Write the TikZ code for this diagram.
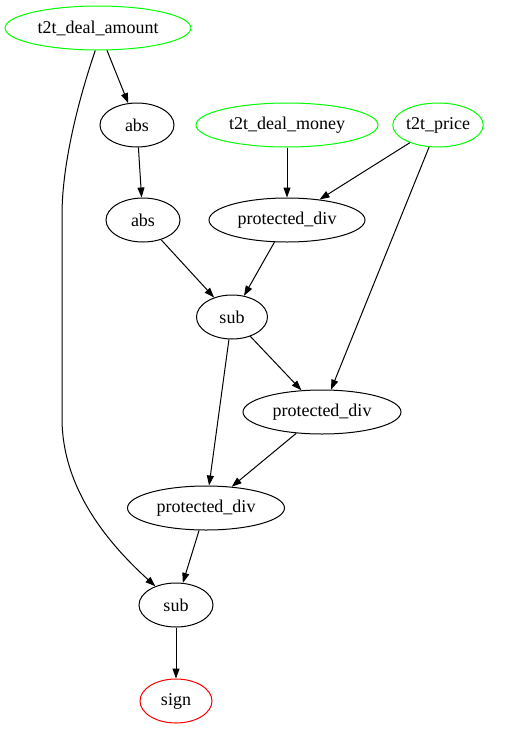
\documentclass[tikz,border=0pt]{standalone}
\usepackage{fontspec}
\setmainfont{Liberation Serif}
\usetikzlibrary{shapes.geometric,arrows.meta}
\begin{document}
\begin{tikzpicture}[x=1pt,y=-1pt,
  every node/.style={font=\fontsize{18}{21}\selectfont},
  op/.style={draw=black,line width=1pt,ellipse,inner sep=0pt,minimum height=44pt},
  term/.style={op,draw=green},
  root/.style={op,draw=red},
  edge/.style={draw=black,line width=1pt,-{Triangle[length=10pt,width=7pt]}}]
\useasboundingbox (0,0) rectangle (519,731);
\node[term,minimum width=186pt] (amt) at (98,28) {t2t\_deal\_amount};
\node[op,minimum width=74pt] (abs1) at (137,125) {abs};
\node[term,minimum width=182pt] (money) at (287,125) {t2t\_deal\_money};
\node[term,minimum width=77pt] (price) at (438,125) {t2t\_price};
\node[op,minimum width=74pt] (abs2) at (143,220) {abs};
\node[op,minimum width=156pt] (pd1) at (287,220) {protected\_div};
\node[op,minimum width=71pt] (sub1) at (232,317) {sub};
\node[op,minimum width=158pt] (pd2) at (322,412) {protected\_div};
\node[op,minimum width=157pt] (pd3) at (206,508) {protected\_div};
\node[op,minimum width=74pt] (sub2) at (176,605) {sub};
\node[root,minimum width=72pt] (sign) at (176,701) {sign};
\coordinate (c1) at (62,215);
\coordinate (c2) at (62,418);
\draw[edge] (amt) -- (abs1);
\draw[edge] (amt.-97) .. controls (75,110) and (62,170) .. (c1) -- (c2)
  .. controls (62,490) and (110,545) .. (sub2);
\draw[edge] (abs1) -- (abs2);
\draw[edge] (money) -- (pd1);
\draw[edge] (price) -- (pd1);
\draw[edge] (price) -- (pd2);
\draw[edge] (abs2) -- (sub1);
\draw[edge] (pd1) -- (sub1);
\draw[edge] (sub1) -- (pd2);
\draw[edge] (sub1) -- (pd3);
\draw[edge] (pd2) -- (pd3);
\draw[edge] (pd3) -- (sub2);
\draw[edge] (sub2) -- (sign);
\end{tikzpicture}
\end{document}
